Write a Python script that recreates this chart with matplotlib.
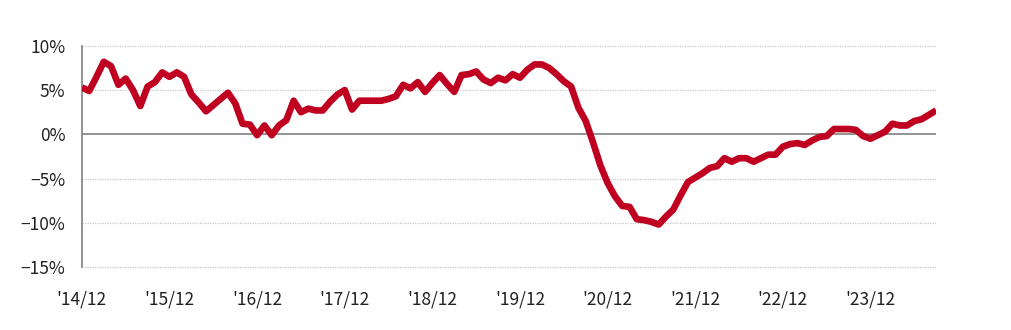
import matplotlib
matplotlib.use('Agg')
import matplotlib.pyplot as plt

plt.rcParams['font.family'] = ['Noto Sans CJK JP', 'DejaVu Sans']

# monthly values, Dec 2014 .. Sep 2024 (%)
values = [5.3, 4.9, 6.5, 8.2, 7.7, 5.6, 6.3, 5.0, 3.2, 5.4,
          5.9, 7.0, 6.5, 7.0, 6.5, 4.5, 3.6, 2.6, 3.3, 4.0,
          4.7, 3.5, 1.2, 1.1, -0.1, 1.0, -0.1, 1.0, 1.6, 3.8,
          2.5, 2.9, 2.7, 2.7, 3.7, 4.5, 5.0, 2.8, 3.8, 3.8,
          3.8, 3.8, 4.0, 4.3, 5.6, 5.2, 5.9, 4.8, 5.8, 6.7,
          5.7, 4.8, 6.7, 6.8, 7.1, 6.2, 5.8, 6.4, 6.1, 6.8,
          6.4, 7.3, 7.9, 7.9, 7.5, 6.8, 6.0, 5.4, 3.0, 1.5,
          -0.9, -3.5, -5.5, -7.0, -8.1, -8.2, -9.6, -9.7, -9.9, -10.2,
          -9.3, -8.5, -6.9, -5.4, -4.9, -4.4, -3.8, -3.6, -2.7, -3.1,
          -2.7, -2.7, -3.1, -2.7, -2.3, -2.3, -1.4, -1.1, -1.0, -1.2,
          -0.7, -0.3, -0.2, 0.6, 0.6, 0.6, 0.5, -0.2, -0.5, -0.1,
          0.3, 1.2, 1.0, 1.0, 1.5, 1.7, 2.2, 2.7]

x_labels = ["'14/12", "'15/12", "'16/12", "'17/12", "'18/12",
            "'19/12", "'20/12", "'21/12", "'22/12", "'23/12"]
y_ticks = [10, 5, 0, -5, -10, -15]
y_labels = ['10%', '5%', '0%', '−5%', '−10%', '−15%']

fig = plt.figure(figsize=(10.11, 3.30), dpi=100)
ax = fig.add_axes([0.081, 0.191, 0.845, 0.670])

ax.plot(range(len(values)), values, color='#C00020', linewidth=4.8,
        solid_joinstyle='round', solid_capstyle='butt', zorder=3)

for v in y_ticks:
    if v == 0:
        ax.axhline(v, color='#808080', linewidth=1.2, zorder=2)
    else:
        ax.axhline(v, color='#c8c8c8', linewidth=0.9, linestyle=(0, (1, 1)),
                   zorder=1, clip_on=False)

ax.set_xlim(0, len(values) - 1)
ax.set_ylim(-15, 10)
ax.set_yticks(y_ticks)
ax.set_yticklabels(y_labels)
ax.set_xticks(range(0, 12 * len(x_labels), 12))
ax.set_xticklabels(x_labels)
ax.tick_params(axis='both', length=0, labelsize=12.5, colors='#222222')
ax.tick_params(axis='y', pad=12)
ax.tick_params(axis='x', pad=17)

for s in ['top', 'right', 'bottom']:
    ax.spines[s].set_visible(False)
ax.spines['left'].set_color('#808080')
ax.spines['left'].set_linewidth(1.2)

fig.savefig('out.png', dpi=100)
